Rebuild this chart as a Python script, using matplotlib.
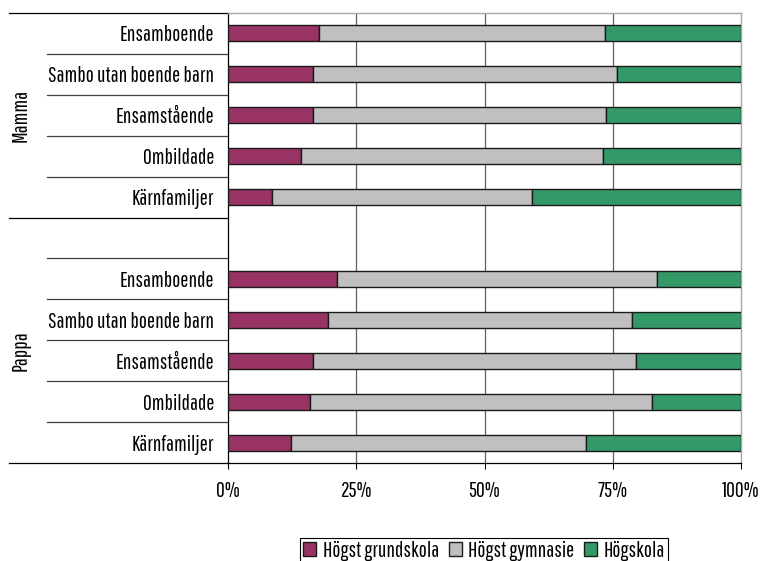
import matplotlib
matplotlib.use('Agg')
import matplotlib.pyplot as plt
import matplotlib.transforms as mtransforms

# smalt typsnitt (liknar originalets News Gothic Condensed)
plt.rcParams['font.family'] = ['Pathway Gothic One', 'Roboto Condensed', 'Liberation Sans Narrow', 'DejaVu Sans']
plt.rcParams['font.size'] = 15.5

categories = ['Ensamboende', 'Sambo utan boende barn', 'Ensamstående', 'Ombildade', 'Kärnfamiljer']
groups = ['Mamma', 'Pappa']
series = ['Högst grundskola', 'Högst gymnasie', 'Högskola']
colors = ['#993366', '#C0C0C0', '#339966']

mamma_grund = [17.8, 16.6, 16.6, 14.3, 8.5]
mamma_gymn = [55.7, 59.3, 57.1, 58.8, 50.7]
mamma_hog = [26.5, 24.1, 26.3, 26.9, 40.8]

pappa_grund = [21.2, 19.4, 16.5, 15.9, 12.3]
pappa_gymn = [62.5, 59.3, 63.1, 66.8, 57.5]
pappa_hog = [16.3, 21.3, 20.4, 17.3, 30.2]

xticks = [0, 25, 50, 75, 100]
xticklabels = ['0%', '25%', '50%', '75%', '100%']

fig = plt.figure(figsize=(7.62, 5.61), dpi=100)
ax = fig.add_axes([228 / 762, 98 / 561, 513 / 762, 450 / 561])

# rader: Mamma 0-4, tom rad 5, Pappa 6-10
y_mamma = list(range(5))
y_pappa = list(range(6, 11))
bar_h = 0.39

for ys, vals in [(y_mamma, [mamma_grund, mamma_gymn, mamma_hog]),
                 (y_pappa, [pappa_grund, pappa_gymn, pappa_hog])]:
    left = [0] * len(ys)
    for i, v in enumerate(vals):
        ax.barh(ys, v, left=left, height=bar_h, color=colors[i],
                edgecolor='#1a1a1a', linewidth=1.0, label=series[i] if ys == y_mamma else None, zorder=3)
        left = [a + b for a, b in zip(left, v)]

ax.set_xlim(0, 100)
ax.set_ylim(10.5, -0.5)
ax.set_xticks(xticks)
ax.set_xticklabels(xticklabels)
ax.tick_params(axis='x', length=4, width=0.8, pad=9)
ax.set_yticks(y_mamma + y_pappa)
ax.set_yticklabels(categories + categories)
ax.tick_params(axis='y', length=0, pad=10)

for x in xticks[1:-1]:
    ax.axvline(x, color='#606060', linewidth=0.9, zorder=1)

# ljusgrå ram upptill och till höger
for s in ['top', 'right']:
    ax.spines[s].set_color('#a6a6a6')
    ax.spines[s].set_linewidth(1.0)
ax.spines['left'].set_linewidth(0.9)
ax.spines['bottom'].set_linewidth(0.9)

# avdelare till vänster
trans = mtransforms.blended_transform_factory(ax.transAxes, ax.transData)
for y in [-0.5, 4.5, 10.5]:
    ax.plot([-0.427, 0], [y, y], color='black', linewidth=0.9, transform=trans, clip_on=False)
for y in [0.5, 1.5, 2.5, 3.5, 5.5, 6.5, 7.5, 8.5, 9.5]:
    ax.plot([-0.353, 0], [y, y], color='#404040', linewidth=0.9, transform=trans, clip_on=False)

ax.text(-0.405, 2.0, groups[0], rotation=90, ha='center', va='center', transform=trans)
ax.text(-0.405, 7.75, groups[1], rotation=90, ha='center', va='center', transform=trans)

leg = fig.legend(loc='upper center', bbox_to_anchor=(484 / 762, 23.5 / 561), ncol=3,
                 frameon=True, fancybox=False, framealpha=1,
                 edgecolor='black', handlelength=0.6, handleheight=0.6,
                 handletextpad=0.3, columnspacing=0.45, borderpad=0.15, borderaxespad=0)
leg.get_frame().set_linewidth(0.8)

fig.savefig('out.png', dpi=100)
